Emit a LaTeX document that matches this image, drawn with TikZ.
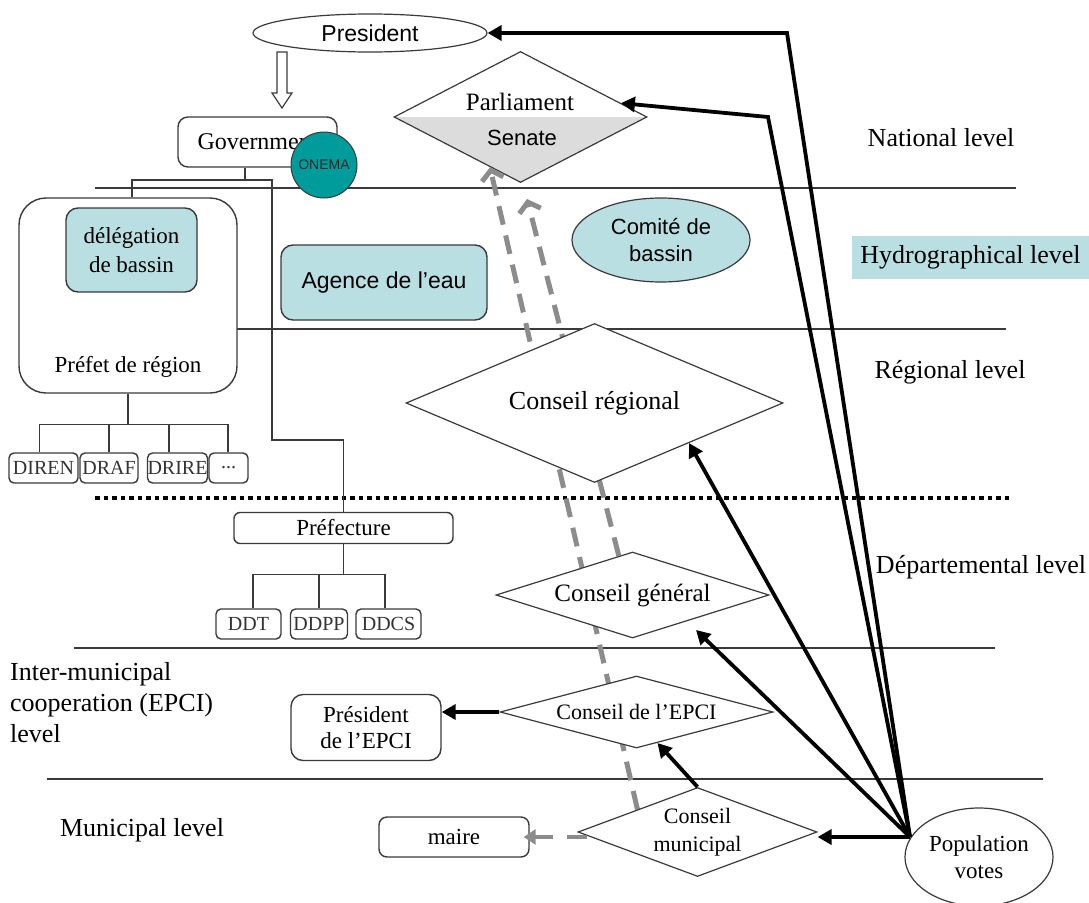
\documentclass[tikz,border=0pt]{standalone}
\usepackage{fontspec}
\setmainfont{Liberation Serif}
\setsansfont{Liberation Sans}
\usetikzlibrary{shapes.geometric,arrows.meta,calc,backgrounds}
\definecolor{tealL}{HTML}{B9DFE2}
\definecolor{tealD}{HTML}{009B9B}
\definecolor{lineC}{HTML}{3A3A3A}
\definecolor{dashC}{HTML}{8C8C8C}
\definecolor{senC}{HTML}{DCDCDC}
\begin{document}
\begin{tikzpicture}[x=1pt,y=-1pt,
  lvlline/.style={draw=lineC, line width=1.2pt},
  box/.style={draw=lineC, line width=1.4pt, rounded corners=7pt, fill=white, inner sep=0pt},
  tbox/.style={box, fill=tealL, rounded corners=12pt},
  sbox/.style={box, rounded corners=5pt, minimum height=30pt, text=black!80, font=\fontsize{20}{24}\selectfont},
  dmd/.style={diamond, draw=lineC, line width=1.2pt, fill=white, inner sep=0pt},
  vote/.style={line width=3.8pt, -{Triangle[length=14pt,width=15pt]}},
  indirect/.style={draw=dashC, line width=5pt, dash pattern=on 19pt off 11pt, -{Straight Barb[length=9pt,width=22pt,line width=5pt]}},
  orgl/.style={draw=lineC, line width=1.2pt},
  lvl/.style={font=\fontsize{26}{31}\selectfont},
  sf23/.style={font=\sffamily\fontsize{23}{27}\selectfont},
  rm23/.style={font=\fontsize{23}{26}\selectfont},
]
\useasboundingbox (0,0) rectangle (1089,902);

% ---------- level labels ----------
\node[lvl] (nat) at (941,138) {National level};
\node[lvl, fill=tealL, minimum width=237pt, minimum height=43pt, inner sep=0pt] (hyd) at (970.5,257.5) {Hydrographical level};
\node[lvl] (reg) at (950,372) {Régional level};
\node[lvl] (dep) at (981,567) {Départemental level};
\node[lvl, align=left, anchor=west, inner sep=0pt] (epcil) at (10,703) {Inter-municipal\\cooperation (EPCI)\\level};
\node[lvl] (mun) at (142,830) {Municipal level};

% ---------- national ----------
\node[ellipse, draw=lineC, line width=1.2pt, minimum width=234pt, minimum height=38pt, inner sep=0pt, sf23] (pres) at (370,33) {President};
\draw[lineC, line width=1.2pt, fill=white] (277,52) -- (277,93) -- (272,93) -- (282,108) -- (292,93) -- (287,93) -- (287,52) -- cycle;
\node[box, rounded corners=10pt, minimum width=159pt, minimum height=50pt, font=\fontsize{24}{28}\selectfont] (gov) at (257.5,142) {Government};
\node[circle, draw=lineC, line width=1pt, fill=tealD, minimum size=66pt, inner sep=0pt, text=black!85, font=\sffamily\fontsize{14}{16}\selectfont] (onema) at (324,165) {ONEMA};

% ---------- hydrographical / regional ----------
\node[box, rounded corners=27pt, minimum width=218pt, minimum height=195pt] (prefet) at (128,295.5) {};
\node[rm23] (prefett) at (128,367) {Préfet de région};
\node[tbox, minimum width=131pt, minimum height=84pt, align=center, font=\fontsize{23}{29}\selectfont] (deleg) at (131.5,250) {délégation\\de bassin};
\node[tbox, minimum width=206pt, minimum height=75pt, sf23] (agence) at (384,282.5) {Agence de l’eau};
\node[ellipse, draw=lineC, line width=1.2pt, fill=tealL, minimum width=178pt, minimum height=84pt, inner sep=0pt, align=center, font=\sffamily\fontsize{22}{27}\selectfont] (comite) at (661,240) {Comité de\\bassin};

\node[sbox, minimum width=69pt] (diren) at (43.5,468) {DIREN};
\node[sbox, minimum width=58pt] (draf) at (109,468) {DRAF};
\node[sbox, minimum width=59pt] (drire) at (177.5,468) {DRIRE};
\node[sbox, minimum width=39pt] (dots) at (228.5,468) {...};

\node[dmd, aspect=2.3, minimum width=377pt, minimum height=159pt, font=\fontsize{26}{30}\selectfont] (creg) at (594.5,403) {Conseil régional};

% ---------- departmental ----------
\node[box, rounded corners=6pt, minimum width=219pt, minimum height=31pt, rm23] (prefc) at (343.5,528) {Préfecture};
\node[sbox, minimum width=65pt] (ddt) at (248.5,624) {DDT};
\node[sbox, minimum width=57pt] (ddpp) at (319,624) {DDPP};
\node[sbox, minimum width=65pt] (ddcs) at (388.5,624) {DDCS};
\node[dmd, aspect=3.2, minimum width=273pt, minimum height=86pt, font=\fontsize{25}{30}\selectfont] (cgen) at (632.5,595) {Conseil général};

% ---------- EPCI ----------
\node[box, rounded corners=12pt, minimum width=150pt, minimum height=66pt, align=center, font=\fontsize{23}{26}\selectfont] (presE) at (366,727.5) {Président\\de l’EPCI};
\node[dmd, aspect=3.6, minimum width=273pt, minimum height=72pt, font=\fontsize{22}{26}\selectfont] (cepci) at (636.5,712) {Conseil de l’EPCI};

% ---------- municipal ----------
\node[box, rounded corners=8pt, minimum width=150pt, minimum height=40pt, rm23] (maire) at (454,837) {maire};
\node[dmd, aspect=2.6, minimum width=239pt, minimum height=89pt, align=center, font=\fontsize{22}{28}\selectfont] (cmun) at (697.5,832) {Conseil\\municipal};
\node[ellipse, draw=lineC, line width=1.2pt, fill=white, minimum width=148pt, minimum height=98pt, inner sep=0pt, align=center, font=\fontsize{23}{27}\selectfont] (pop) at (979,857) {Population\\votes};

% ---------- background: level lines, parliament, indirect election ----------
\begin{pgfonlayer}{background}
\draw[lvlline] (95,188) -- (1016,188);
\draw[lvlline] (237,329) -- (1006,329);
\draw[line width=4.5pt, dash pattern=on 4.5pt off 4pt] (95,498) -- (1011,498);
\draw[lvlline] (74,648) -- (995,648);
\draw[lvlline] (47,779) -- (1043,779);
\node[dmd, minimum width=253pt, minimum height=131pt,
  path picture={\fill[senC] (path picture bounding box.west) rectangle (path picture bounding box.south east);}] (parl) at (520.5,117) {};
\draw[indirect] ($(cmun.north)!0.5!(cmun.west)$) -- ($(parl.west)!0.76!(parl.south)$);
\draw[indirect] ($(cgen.north)!0.1!(cgen.west)$) -- (527,199);
\end{pgfonlayer}
\node[font=\fontsize{25}{30}\selectfont] (parlt) at (520,102) {Parliament};
\node[font=\sffamily\fontsize{22}{26}\selectfont] (sen) at (522,138) {Senate};

% ---------- organisation tree ----------
\draw[orgl] ([xshift=-12.5pt]gov.south) -- (245,180);
\draw[orgl] ([xshift=4pt]prefet.north) |- (245,180) -| (272,440) -| (prefc.north);
\draw[orgl] (prefet.south) -- ++(0,31) coordinate (pj);
\draw[orgl] ([xshift=-4pt]diren.north) |- ([xshift=-0.5pt]dots.north |- pj) -- ([xshift=-0.5pt]dots.north);
\draw[orgl] (draf.north) -- (draf.north |- pj);
\draw[orgl] ([xshift=-8.5pt]drire.north) -- ([xshift=-8.5pt]drire.north |- pj);
\draw[orgl] (prefc.south) -- ++(0,30) coordinate (fj);
\draw[orgl] ([xshift=4.5pt]ddt.north) |- ([xshift=-3.5pt]ddcs.north |- fj) -- ([xshift=-3.5pt]ddcs.north);
\draw[orgl] (ddpp.north) -- (ddpp.north |- fj);

% ---------- votes ----------
\coordinate (pv) at (910,837);
\coordinate (cP) at (787,33);
\coordinate (cPa) at (768,117);
\coordinate (tgen) at (696,630);
\draw[vote, line join=miter] (pv) -- (cP) -- (pres.east);
\draw[vote, line join=miter] (pv) -- (cPa) -- ($(parl.north)!0.79!(parl.east)$);
\draw[vote] (pv) -- ($(creg.south)!0.5!(creg.east)$);
\draw[vote] (pv) -- (tgen);
\draw[vote] (pv) -- (pv -| cmun.east);
\draw[vote] (cmun.north) -- ($(cepci.south)!0.153!(cepci.east)$);
\draw[vote] (cepci.west) -- (cepci.west -| presE.east);
\draw[draw=dashC, line width=4.5pt, dash pattern=on 20pt off 14pt, -{Triangle[length=12pt,width=15pt]}] ([xshift=10pt]cmun.west |- maire.east) -- ([xshift=-6pt]maire.east);
\end{tikzpicture}
\end{document}
